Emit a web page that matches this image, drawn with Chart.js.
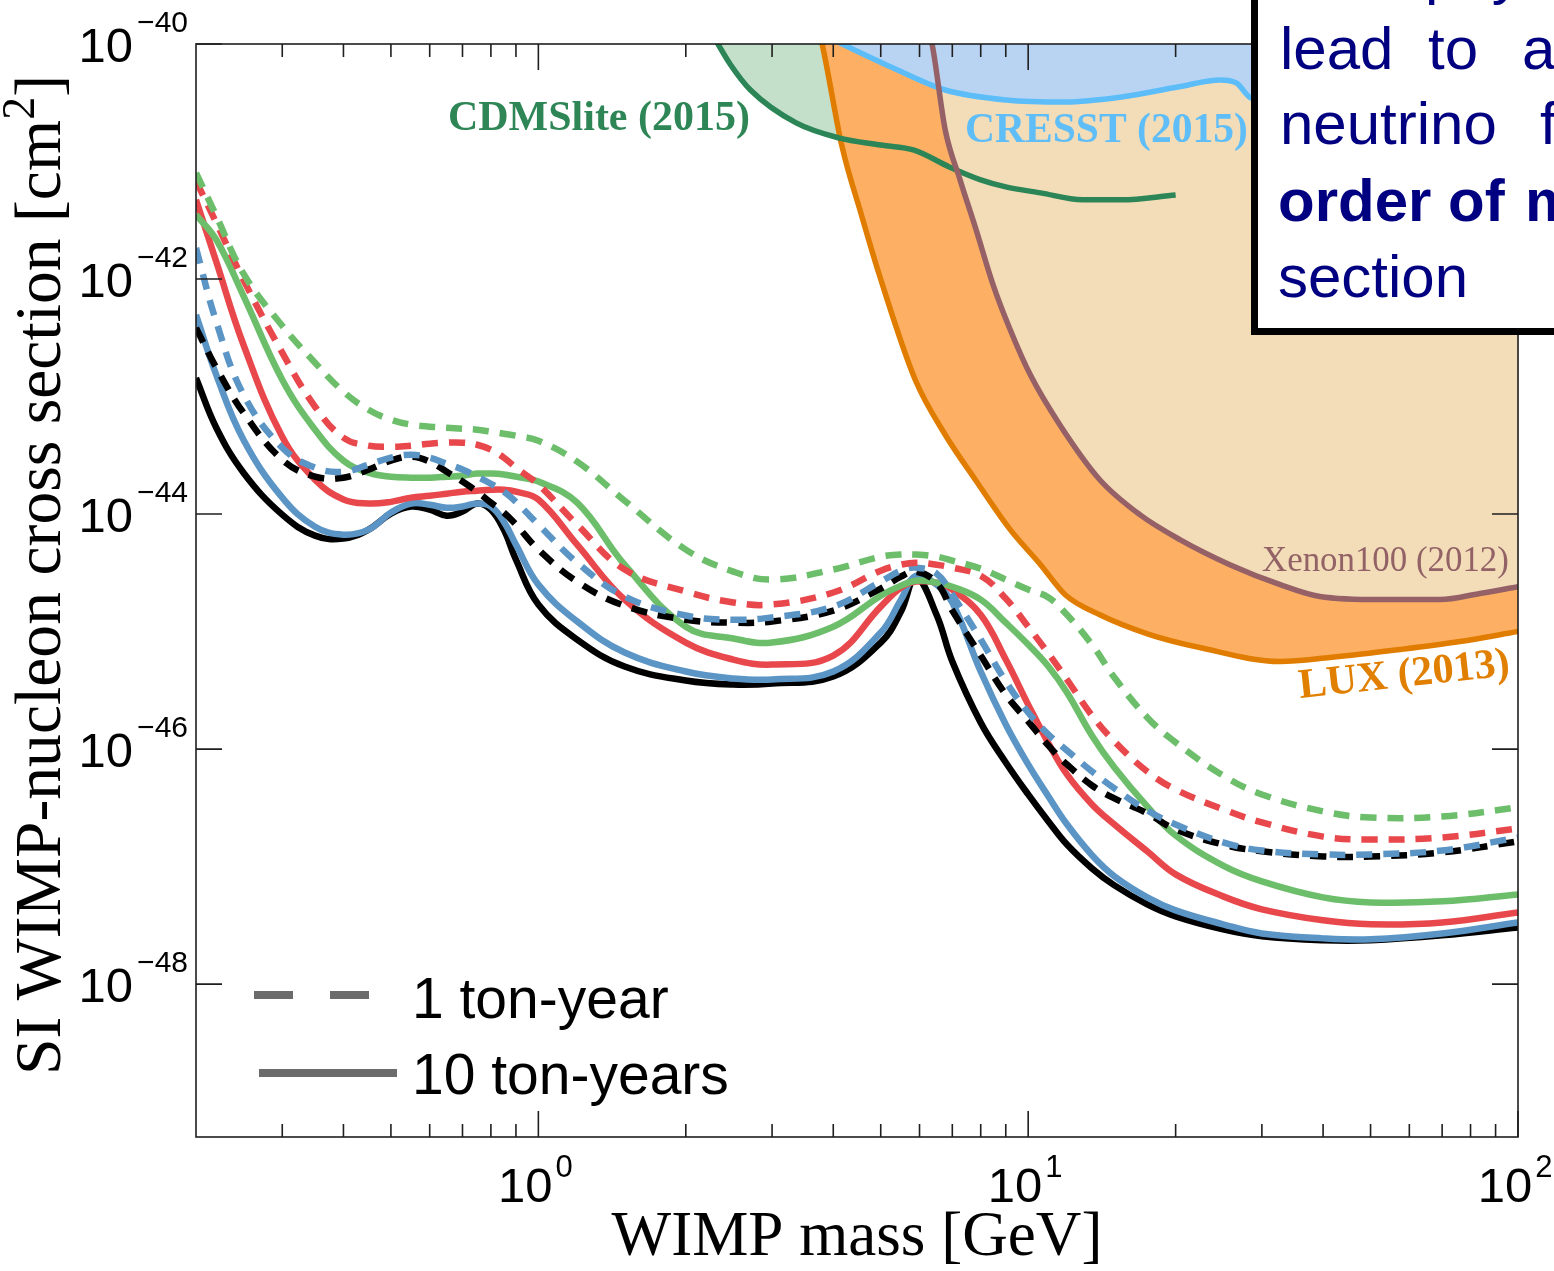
<!DOCTYPE html>
<html>
<head>
<meta charset="utf-8">
<title>WIMP-nucleon cross section projections</title>
<script src="https://cdn.jsdelivr.net/npm/chart.js@4.4.1/dist/chart.umd.min.js"></script>
<style>
  html, body { margin: 0; padding: 0; background: #fff; overflow: hidden; }
  #wrap { position: relative; width: 1554px; height: 1271px; overflow: hidden; }
  #chartCanvas { position: absolute; left: 0; top: 0; }
  #note {
    position: absolute; left: 1251px; top: -20px; width: 420px; height: 341px;
    border: 7px solid #000; background: #fff; overflow: hidden;
    font-family: "Liberation Sans", Arial, sans-serif; font-size: 60px; color: #000080;
  }
  #note .w { position: absolute; line-height: 1; white-space: pre; }
  #note .b { font-weight: bold; }
</style>
</head>
<body>
<div id="wrap">
  <canvas id="chartCanvas" width="1554" height="1271"></canvas>
  <div id="note">
    <span class="w" style="left:167px; top:-44px;">physics</span>
    <span class="w" style="left:22px; top:32px;">lead</span>
    <span class="w" style="left:170px; top:32px;">to</span>
    <span class="w" style="left:264px; top:32px;">a</span>
    <span class="w" style="left:22px; top:107px;">neutrino</span>
    <span class="w" style="left:282px; top:107px;">f</span>
    <span class="w b" style="left:20px; top:184px;">order</span>
    <span class="w b" style="left:190px; top:184px;">of</span>
    <span class="w b" style="left:267px; top:184px;">m</span>
    <span class="w" style="left:20px; top:260px;">section</span>
  </div>
</div>
<script>
// WIMP mass grid [GeV] shared by the projected sensitivity curves
const mass = [0.2, 0.22, 0.25, 0.3, 0.35, 0.4, 0.45, 0.5, 0.55, 0.6,
              0.65, 0.7, 0.75, 0.8, 0.85, 0.9, 1.0, 1.2, 1.5, 2,
              2.5, 3, 4, 5, 5.5, 5.9, 6.5, 7, 8, 9,
              10, 11, 12, 13.5, 15, 17.5, 20, 25, 30, 40, 50, 70, 100];

// 10 ton-years (solid)
const blackSolid = [1.44e-43, 5.43e-44, 2.25e-44, 9.88e-45, 6.55e-45, 6.18e-45, 7.37e-45, 1.01e-44, 1.16e-44, 1.09e-44,
                    9.69e-45, 1.05e-44, 1.23e-44, 1.09e-44, 7.37e-45, 4.10e-45, 1.70e-45, 8.55e-46, 5.04e-46, 3.83e-46,
                    3.54e-46, 3.61e-46, 4.14e-46, 8.06e-46, 1.48e-45, 2.88e-45, 1.39e-45, 5.56e-46, 1.68e-46, 7.69e-47,
                    4.11e-47, 2.42e-47, 1.54e-47, 9.65e-48, 6.92e-48, 4.77e-48, 3.77e-48, 2.92e-48, 2.55e-48, 2.36e-48, 2.36e-48, 2.60e-48, 3.04e-48];
const blueSolid = [4.96e-43, 1.53e-43, 4.29e-44, 1.38e-44, 7.81e-45, 6.68e-45, 7.37e-45, 1.03e-44, 1.23e-44, 1.20e-44,
                   1.13e-44, 1.16e-44, 1.23e-44, 1.16e-44, 8.62e-45, 5.49e-45, 2.51e-45, 1.22e-45, 6.63e-46, 4.57e-46,
                   3.99e-46, 3.91e-46, 4.57e-46, 9.80e-46, 1.87e-45, 2.99e-45, 2.51e-45, 1.77e-45, 4.57e-46, 1.62e-46,
                   7.40e-47, 3.95e-47, 2.29e-47, 1.25e-47, 8.26e-48, 5.47e-48, 4.24e-48, 3.23e-48, 2.70e-48, 2.45e-48, 2.41e-48, 2.70e-48, 3.35e-48];
const redSolid = [4.72e-42, 1.40e-42, 2.76e-43, 4.55e-44, 1.96e-44, 1.33e-44, 1.23e-44, 1.27e-44, 1.38e-44, 1.43e-44,
                  1.49e-44, 1.55e-44, 1.58e-44, 1.61e-44, 1.61e-44, 1.55e-44, 1.33e-44, 5.49e-45, 1.87e-45, 8.06e-46,
                  5.78e-46, 5.24e-46, 6.25e-46, 1.63e-45, 2.37e-45, 2.66e-45, 2.61e-45, 2.28e-45, 1.39e-45, 5.78e-46,
                  2.39e-46, 1.12e-46, 6.08e-47, 3.38e-47, 2.28e-47, 1.35e-47, 8.59e-48, 5.58e-48, 4.33e-48, 3.49e-48, 3.23e-48, 3.35e-48, 4.08e-48];
const greenSolid = [3.52e-42, 2.16e-42, 7.20e-43, 1.39e-43, 5.22e-44, 2.85e-44, 2.25e-44, 2.08e-44, 2.04e-44, 2.04e-44,
                    2.08e-44, 2.12e-44, 2.21e-44, 2.21e-44, 2.17e-44, 2.08e-44, 1.89e-44, 1.25e-44, 3.71e-45, 1.10e-45,
                    8.72e-46, 8.06e-46, 1.10e-45, 2.02e-45, 2.46e-45, 2.71e-45, 2.61e-45, 2.41e-45, 1.87e-45, 1.19e-45,
                    7.75e-46, 5.04e-46, 3.03e-46, 1.30e-46, 6.98e-47, 3.25e-47, 1.84e-47, 1.02e-47, 7.49e-48, 5.47e-48, 4.96e-48, 5.06e-48, 5.80e-48];

// 1 ton-year (dashed)
const blackDashed = [3.84e-43, 1.76e-43, 7.28e-44, 2.90e-44, 2.08e-44, 2.04e-44, 2.39e-44, 2.85e-44, 3.08e-44, 2.79e-44,
                     2.29e-44, 1.89e-44, 1.55e-44, 1.25e-44, 1.03e-44, 8.13e-45, 4.98e-45, 2.66e-45, 1.66e-45, 1.26e-45,
                     1.19e-45, 1.22e-45, 1.51e-45, 2.32e-45, 2.94e-45, 3.24e-45, 2.61e-45, 1.51e-45, 6.25e-46, 2.91e-46,
                     1.72e-46, 1.07e-46, 7.40e-47, 4.90e-47, 3.80e-47, 2.84e-47, 2.07e-47, 1.54e-47, 1.35e-47, 1.22e-47, 1.22e-47, 1.32e-47, 1.64e-47];
const blueDashed = [1.84e-42, 4.33e-43, 1.04e-43, 3.67e-44, 2.48e-44, 2.29e-44, 2.63e-44, 3.02e-44, 3.20e-44, 3.02e-44,
                    2.68e-44, 2.39e-44, 2.08e-44, 1.81e-44, 1.55e-44, 1.27e-44, 8.13e-45, 3.86e-45, 1.99e-45, 1.37e-45,
                    1.26e-45, 1.32e-45, 1.63e-45, 2.66e-45, 3.30e-45, 3.50e-45, 3.11e-45, 2.06e-45, 8.55e-46, 3.76e-46,
                    2.05e-46, 1.33e-46, 9.73e-47, 6.45e-47, 4.63e-47, 3.01e-47, 2.28e-47, 1.61e-47, 1.37e-47, 1.27e-47, 1.27e-47, 1.37e-47, 1.77e-47];
const redDashed = [6.84e-42, 3.01e-42, 9.84e-43, 2.36e-43, 8.19e-44, 4.46e-44, 3.82e-44, 3.74e-44, 3.82e-44, 3.97e-44,
                   4.05e-44, 4.05e-44, 3.89e-44, 3.53e-44, 3.02e-44, 2.48e-44, 1.78e-44, 8.13e-45, 3.37e-45, 2.19e-45,
                   1.77e-45, 1.70e-45, 2.15e-45, 3.30e-45, 3.71e-45, 3.86e-45, 3.71e-45, 3.50e-45, 2.99e-45, 1.91e-45,
                   1.10e-45, 6.50e-46, 3.91e-46, 1.93e-46, 1.16e-46, 6.45e-47, 4.53e-47, 3.07e-47, 2.38e-47, 1.80e-47, 1.70e-47, 1.77e-47, 2.11e-47];
const greenDashed = [8.00e-42, 3.45e-42, 1.11e-42, 4.00e-43, 1.94e-43, 1.10e-43, 7.72e-44, 6.35e-44, 5.76e-44, 5.54e-44,
                     5.43e-44, 5.32e-44, 5.22e-44, 5.02e-44, 4.83e-44, 4.64e-44, 4.21e-44, 2.79e-44, 1.30e-44, 4.98e-45,
                     3.24e-45, 2.77e-45, 3.37e-45, 4.34e-45, 4.52e-45, 4.52e-45, 4.34e-45, 4.02e-45, 3.43e-45, 2.77e-45,
                     2.28e-45, 1.95e-45, 1.39e-45, 7.75e-46, 4.06e-46, 1.86e-46, 1.14e-46, 5.96e-47, 4.11e-47, 2.95e-47, 2.62e-47, 2.67e-47, 3.19e-47];

// existing exclusion limits
const cdmsMass = [2.27, 2.47, 2.71, 3.36, 4.1, 5.0, 5.85, 6.9, 8.0, 9.0, 10.6, 12.9, 15.5, 20];
const cdmsSigma = [1.19e-40, 6.63e-41, 4.06e-41, 2.13e-41, 1.59e-41, 1.38e-41, 1.25e-41, 9.00e-42, 6.98e-42, 6.08e-42, 5.41e-42, 4.72e-42, 4.72e-42, 5.20e-42];
const cresstMass = [3.94, 5.25, 6.77, 9.02, 11.9, 15.5, 20.2, 24.7, 26.6, 28.5, 35.9, 57.4, 100];
const cresstSigma = [1.12e-40, 6.37e-41, 4.06e-41, 3.34e-41, 3.21e-41, 3.54e-41, 4.31e-41, 4.94e-41, 4.66e-41, 3.47e-41, 3.03e-41, 3.68e-41, 4.48e-41];
const luxMass = [3.73, 3.80, 4.17, 4.56, 4.99, 5.88, 6.77, 7.80, 9.19, 10.6, 11.9, 14.0, 17.7, 22.4, 32.7, 41.3, 57.4, 76.1, 100];
const luxSigma = [1.32e-40, 9.80e-41, 1.33e-41, 3.58e-42, 1.02e-42, 1.39e-43, 4.73e-44, 1.96e-44, 7.37e-45, 3.71e-45, 2.06e-45, 1.39e-45, 9.43e-46, 7.31e-46, 5.56e-46, 6.01e-46, 7.03e-46, 8.22e-46, 1.00e-45];
const xenonMass = [6.25, 6.37, 6.77, 7.26, 7.83, 8.48, 9.19, 10.1, 11.6, 14.0, 16.9, 20.4, 25.8, 32.7, 39.4, 52.3, 69.3, 83.6, 100];
const xenonSigma = [1.32e-40, 9.80e-41, 1.86e-41, 6.98e-42, 2.62e-42, 8.93e-43, 3.70e-43, 1.53e-43, 5.76e-44, 1.96e-44, 9.88e-45, 6.06e-45, 3.71e-45, 2.51e-45, 1.99e-45, 1.87e-45, 1.87e-45, 2.11e-45, 2.41e-45];

// axis ticks
const xMajor = [1, 10, 100];
const xMinor = [0.3, 0.4, 0.5, 0.6, 0.7, 0.8, 0.9, 2, 3, 4, 5, 6, 7, 8, 9, 20, 30, 40, 50, 60, 70, 80, 90];
const yMajor = [1e-40, 1e-42, 1e-44, 1e-46, 1e-48];

const colBlack = '#000000';
const colBlue = '#5b95c6';
const colRed = '#e8484c';
const colGreen = '#6dbe6b';

function pts(xs, ys) {
    return xs.map((x, i) => ({ x: x, y: ys[i] }));
}

function projection(label, ys, color, dashed) {
    return {
        label: label,
        data: pts(mass, ys),
        borderColor: color,
        borderWidth: 6.5,
        borderDash: dashed ? [16, 11] : [],
        borderCapStyle: 'butt',
        borderJoinStyle: 'round',
        pointRadius: 0,
        fill: false,
        tension: 0.4
    };
}

function limitLine(label, xs, ys, color) {
    return {
        label: label,
        data: pts(xs, ys),
        borderColor: color,
        borderWidth: 5.5,
        borderJoinStyle: 'round',
        pointRadius: 0,
        fill: false,
        cubicInterpolationMode: 'monotone'
    };
}

function limitFill(label, xs, ys, color) {
    return {
        label: label,
        data: pts(xs, ys),
        borderColor: 'transparent',
        borderWidth: 0,
        backgroundColor: color,
        pointRadius: 0,
        fill: 'end',
        cubicInterpolationMode: 'monotone'
    };
}

function fitFont(ctx, text, width, weight, family) {
    ctx.font = weight + ' 100px ' + family;
    return 100 * width / ctx.measureText(text).width;
}

const frameAndLabels = {
    id: 'frameAndLabels',
    afterDatasetsDraw(chart) {
        const ctx = chart.ctx;
        const a = chart.chartArea;
        const xs = chart.scales.x;
        const ys = chart.scales.y;
        ctx.save();
        ctx.strokeStyle = '#1f1f1f';
        ctx.lineWidth = 1.6;
        ctx.strokeRect(a.left, a.top, a.right - a.left, a.bottom - a.top);
        ctx.beginPath();
        xMajor.forEach(v => {
            const p = xs.getPixelForValue(v);
            ctx.moveTo(p, a.bottom); ctx.lineTo(p, a.bottom - 26);
            ctx.moveTo(p, a.top); ctx.lineTo(p, a.top + 26);
        });
        xMinor.forEach(v => {
            const p = xs.getPixelForValue(v);
            ctx.moveTo(p, a.bottom); ctx.lineTo(p, a.bottom - 13);
            ctx.moveTo(p, a.top); ctx.lineTo(p, a.top + 13);
        });
        yMajor.forEach(v => {
            const p = ys.getPixelForValue(v);
            ctx.moveTo(a.left, p); ctx.lineTo(a.left + 26, p);
            ctx.moveTo(a.right, p); ctx.lineTo(a.right - 26, p);
        });
        ctx.stroke();
        ctx.restore();
    },
    afterDraw(chart) {
        const ctx = chart.ctx;
        const xs = chart.scales.x;
        const ys = chart.scales.y;
        ctx.save();
        ctx.fillStyle = '#000';
        ctx.textBaseline = 'alphabetic';

        // x tick labels
        xMajor.forEach(v => {
            const p = xs.getPixelForValue(v);
            const e = String(Math.round(Math.log10(v)));
            ctx.font = '49px "Liberation Sans"';
            const w10 = ctx.measureText('10').width;
            ctx.font = '31px "Liberation Sans"';
            const we = ctx.measureText(e).width;
            const x0 = p - (w10 + 3 + we) / 2 - 3;
            ctx.textAlign = 'left';
            ctx.font = '49px "Liberation Sans"';
            ctx.fillText('10', x0, 1202);
            ctx.font = '31px "Liberation Sans"';
            ctx.fillText(e, x0 + w10 + 3, 1177);
        });

        // y tick labels
        yMajor.forEach(v => {
            const p = ys.getPixelForValue(v);
            const e = '\u2212' + String(Math.abs(Math.round(Math.log10(v))));
            ctx.textAlign = 'right';
            ctx.font = '30px "Liberation Sans"';
            const we = ctx.measureText(e).width;
            ctx.fillText(e, 188, p - 12);
            ctx.font = '49px "Liberation Sans"';
            ctx.fillText('10', 188 - we - 4, p + 18);
        });

        // axis titles
        const serif = '"Liberation Serif", "DejaVu Serif", serif';
        let s = fitFont(ctx, 'WIMP mass [GeV]', 491, 'normal', serif);
        ctx.font = s + 'px ' + serif;
        ctx.textAlign = 'center';
        ctx.fillText('WIMP mass [GeV]', 857, 1255);

        const yMain = 'SI WIMP-nucleon cross section [cm';
        ctx.font = '100px ' + serif;
        const wm = ctx.measureText(yMain).width;
        const wb = ctx.measureText(']').width;
        ctx.font = '70px ' + serif;
        const ws = ctx.measureText('2').width;
        s = 100 * 1000 / (wm + wb + ws);
        const k = s / 100;
        ctx.save();
        ctx.translate(60, 575);
        ctx.rotate(-Math.PI / 2);
        ctx.textAlign = 'left';
        let x0 = -(wm + ws + wb) * k / 2;
        ctx.font = s + 'px ' + serif;
        ctx.fillText(yMain, x0, 0);
        ctx.font = (0.7 * s) + 'px ' + serif;
        ctx.fillText('2', x0 + wm * k, -0.4 * s);
        ctx.font = s + 'px ' + serif;
        ctx.fillText(']', x0 + (wm + ws) * k, 0);
        ctx.restore();

        // experiment labels
        ctx.textAlign = 'left';
        s = fitFont(ctx, 'CDMSlite (2015)', 302, 'bold', serif);
        ctx.font = 'bold ' + s + 'px ' + serif;
        ctx.fillStyle = '#2e8556';
        ctx.fillText('CDMSlite (2015)', 448, 130);

        s = fitFont(ctx, 'CRESST (2015)', 283, 'bold', serif);
        ctx.font = 'bold ' + s + 'px ' + serif;
        ctx.fillStyle = '#5fbdf7';
        ctx.fillText('CRESST (2015)', 965, 142);

        s = fitFont(ctx, 'Xenon100 (2012)', 247, 'normal', serif);
        ctx.font = s + 'px ' + serif;
        ctx.fillStyle = '#926266';
        ctx.fillText('Xenon100 (2012)', 1262, 571);

        s = fitFont(ctx, 'LUX (2013)', 212, 'bold', serif);
        ctx.save();
        ctx.translate(1300, 698);
        ctx.rotate(-0.108);
        ctx.font = 'bold ' + s + 'px ' + serif;
        ctx.fillStyle = '#e07f00';
        ctx.fillText('LUX (2013)', 0, 0);
        ctx.restore();

        // legend
        ctx.strokeStyle = '#6b6b6b';
        ctx.lineWidth = 8;
        ctx.lineCap = 'butt';
        ctx.beginPath();
        ctx.moveTo(254, 995); ctx.lineTo(293, 995);
        ctx.moveTo(330, 995); ctx.lineTo(369, 995);
        ctx.moveTo(259, 1073); ctx.lineTo(397, 1073);
        ctx.stroke();
        ctx.fillStyle = '#000';
        ctx.font = '57px "Liberation Sans"';
        ctx.fillText('1 ton-year', 412, 1018);
        ctx.fillText('10 ton-years', 412, 1094);
        ctx.restore();
    }
};

const ctx = document.getElementById('chartCanvas').getContext('2d');

const chartInstance = new Chart(ctx, {
    type: 'line',
    data: {
        datasets: [
            projection('green 1 ton-year', greenDashed, colGreen, true),
            projection('red 1 ton-year', redDashed, colRed, true),
            projection('blue 1 ton-year', blueDashed, colBlue, true),
            projection('black 1 ton-year', blackDashed, colBlack, true),
            projection('green 10 ton-years', greenSolid, colGreen, false),
            projection('red 10 ton-years', redSolid, colRed, false),
            projection('blue 10 ton-years', blueSolid, colBlue, false),
            projection('black 10 ton-years', blackSolid, colBlack, false),
            limitLine('Xenon100 (2012)', xenonMass, xenonSigma, '#956166'),
            limitLine('CDMSlite (2015)', cdmsMass, cdmsSigma, '#2b8556'),
            limitLine('LUX (2013)', luxMass, luxSigma, '#e07c00'),
            limitLine('CRESST (2015)', cresstMass, cresstSigma, '#5dbdf9'),
            limitFill('CRESST region', cresstMass, cresstSigma, '#b9d4f3'),
            limitFill('Xenon100 region', xenonMass, xenonSigma, '#f2ddb8'),
            limitFill('LUX region', luxMass, luxSigma, '#fdb063'),
            limitFill('CDMSlite region', cdmsMass, cdmsSigma, '#c4dfca')
        ]
    },
    options: {
        responsive: false,
        devicePixelRatio: 1,
        animation: false,
        layout: { padding: { left: 0, right: 36, top: 44, bottom: 0 } },
        plugins: {
            legend: { display: false },
            tooltip: { enabled: false }
        },
        scales: {
            x: {
                type: 'logarithmic',
                min: 0.2,
                max: 100,
                ticks: { display: false },
                grid: { display: false },
                border: { display: false },
                afterFit: function(scale) { scale.height = 134; }
            },
            y: {
                type: 'logarithmic',
                min: 5e-50,
                max: 1e-40,
                ticks: { display: false },
                grid: { display: false },
                border: { display: false },
                afterFit: function(scale) { scale.width = 196; }
            }
        }
    },
    plugins: [frameAndLabels]
});
</script>
</body>
</html>
